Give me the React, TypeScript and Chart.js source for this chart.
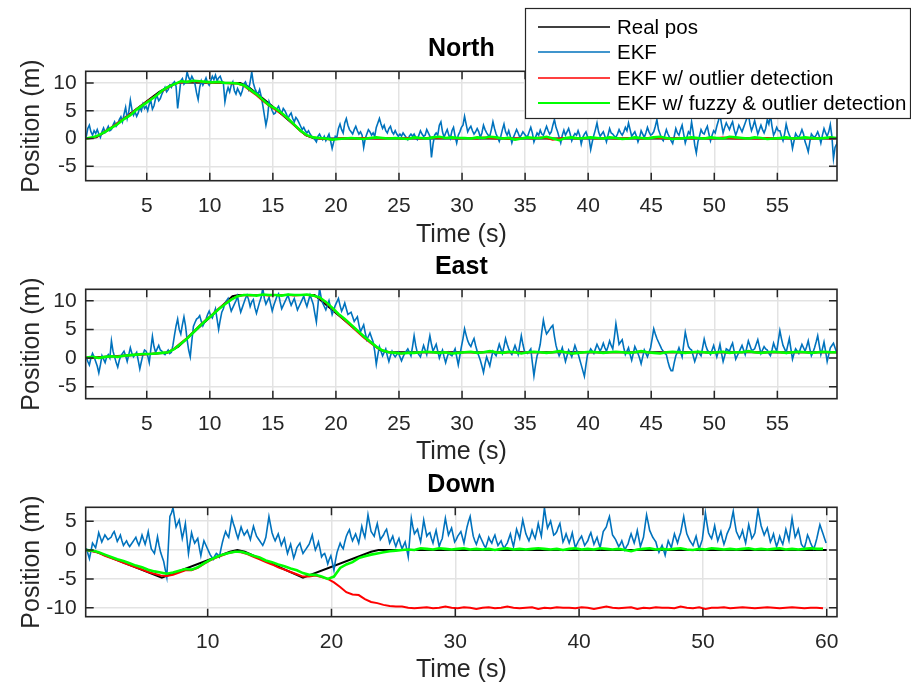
import React, { useEffect, useRef } from "react";
import { Chart, registerables } from "chart.js";
Chart.register(...registerables);

// ---------- DATA ----------
const seriesNames = ["Real pos", "EKF", "EKF w/ outlier detection", "EKF w/ fuzzy & outlier detection"];
const seriesColors = ["#000000", "#0072BD", "#FF0000", "#00FF00"];

const ekfStart = 0.2;
const ekfStep = 0.125;
const filtStart = 0.2;
const filtStep = 0.5;

const northXTicks = [5, 10, 15, 20, 25, 30, 35, 40, 45, 50, 55];
const eastXTicks = [5, 10, 15, 20, 25, 30, 35, 40, 45, 50, 55];
const downXTicks = [10, 20, 30, 40, 50, 60];
const northYTicks = [-5, 0, 5, 10];
const eastYTicks = [-5, 0, 5, 10];
const downYTicks = [-10, -5, 0, 5];

// North
const northRealT = [0.16, 1.0, 2.0, 3.0, 4.0, 5.0, 6.0, 7.0, 7.6, 12.4, 13.0, 14.0, 15.0, 16.0, 17.0, 17.6, 18.3, 59.73];
const northRealV = [0, 0.2, 1.6, 3.3, 5.0, 6.7, 8.4, 9.7, 10.1, 10.0, 9.4, 7.6, 5.7, 3.8, 1.8, 0.6, 0, 0];
const northEkf = [
  0.3, 1.8, 2.4, 1.2, 0.6, 1.4, 0.9, 1.6,  0.8, 0.2, 1.2, 1.9, 1.1, 1.6, 2.2, 1.4,
  1.6, 2.4, 3.0, 2.2, 2.6, 3.4, 3.9, 3.0,  4.4, 5.6, 3.6, 4.8, 6.9, 5.2, 4.2, 4.8,
  4.0, 4.6, 5.6, 5.0, 6.2, 5.4, 5.8, 5.0,  6.2, 6.8, 5.3, 5.9, 7.2, 7.6, 6.8, 7.2,
  8.0, 8.6, 9.2, 8.4, 8.8, 9.6, 9.2, 9.9,  10.2, 9.4, 5.4, 7.8, 10.4, 10.8, 9.8, 10.2,
  12.0, 11.0, 10.4, 11.2, 10.6, 9.8, 8.2, 7.0,  9.2, 10.4, 9.6, 10.2, 10.9, 10.0, 9.6, 10.4,
  11.2, 10.6, 11.4, 10.4, 10.9, 11.2, 10.4, 10.0,  6.6, 8.2, 9.2, 8.4, 9.6, 10.2, 8.6, 8.0,
  9.0, 8.4, 7.8, 8.6, 9.8, 10.2, 9.4, 8.8,  10.2, 12.0, 10.0, 9.0, 8.4, 8.0, 8.8, 7.6,
  6.0, 4.2, 2.4, 3.8, 6.6, 5.8, 5.0, 4.4,  4.6, 5.4, 5.8, 5.0, 4.6, 5.4, 5.0, 4.4,
  3.6, 4.2, 4.6, 3.6, 3.0, 3.8, 3.4, 2.8,  2.2, 1.6, 2.0, 1.4, 1.0, 1.4, 0.8, 0.4,
  0.2, -0.2, -0.6, 0.4, 0.8, 0.2, -0.2, 0.4,  -0.4, 0.2, 0.8, -0.4, -1.8, -0.6, 0.4, 0.2,
  1.8, 2.6, 1.6, 1.0, 2.8, 3.6, 2.4, 1.6,  1.2, 0.8, 1.6, 2.2, 1.4, 0.8, 1.2, 0.6,
  -1.6, 0.0, 0.8, 1.6, 1.2, 0.6, 1.0, 0.4,  2.0, 2.8, 3.6, 2.6, 1.8, 2.4, 1.4, 1.0,
  1.8, 2.2, 1.2, 0.8, 1.4, 0.8, 0.4, 0.8,  0.4, 1.0, 0.6, 0.2, -0.2, 0.4, 0.8, 0.4,
  0.8, 0.2, -0.2, 0.6, 1.4, 0.8, 0.4, 0.6,  1.6, 1.0, 0.4, -3.4, -1.0, 0.6, 1.0, 0.6,
  2.4, 3.0, 1.2, 0.2, 1.0, 1.6, 0.6, 0.0,  1.4, 2.0, 0.4, -0.8, 0.6, 1.2, 2.0, 2.4,
  4.0, 2.6, 1.2, 1.8, 2.2, 1.4, 0.8, 1.2,  1.8, 1.2, 0.2, 1.0, 2.4, 1.6, 1.0, 0.6,
  0.4, 1.6, 3.0, 1.8, 0.8, 0.2, -0.5, 0.4,  1.6, 2.6, 1.2, 0.6, 1.4, 0.4, -0.8, 0.2,
  0.9, 1.6, 1.0, 0.2, 0.6, 1.2, 0.8, 0.4,  0.4, 1.2, 2.0, 1.0, -0.6, 0.2, 1.0, 0.6,
  1.5, 0.8, 0.6, 1.4, 2.2, 1.4, 0.8, 1.2,  2.4, 3.4, 2.0, 1.2, 0.2, -0.8, 0.6, 1.5,
  0.6, 1.2, 1.8, 0.8, -0.4, 0.4, 0.9, 0.6,  1.4, 0.6, -1.0, 0.2, 0.8, 1.2, 0.3, 0.0,
  -2.0, -0.6, 0.6, 1.6, 2.8, 1.2, 0.4, 0.8,  1.2, 0.4, -0.6, 0.6, 1.8, 1.0, 0.8, 0.4,
  0.2, 0.8, 1.6, 1.0, 0.6, 1.2, 2.0, 1.4,  2.8, 1.6, 0.4, 0.8, 1.2, 0.4, -0.6, 0.2,
  1.4, 0.8, 0.2, 1.0, 2.0, 1.2, 0.6, 0.8,  1.2, 2.2, 3.4, 1.6, 0.8, 0.0, -0.4, 0.6,
  1.6, 0.8, 0.2, -0.4, -0.9, 0.4, 1.8, 1.0,  0.6, 1.6, 2.4, 0.8, -0.8, 0.2, 1.2, 0.8,
  3.0, 1.2, -1.2, -2.6, -0.6, 0.4, 1.6, 1.0,  0.8, 1.6, 2.2, 0.8, -0.4, 0.6, 1.4, 1.0,
  2.2, 3.2, 4.3, 2.6, 1.0, 2.0, 2.8, 2.2,  1.6, 2.4, 3.0, 1.6, 0.6, 1.4, 2.4, 1.8,
  1.2, 2.0, 2.8, 3.6, 4.6, 2.6, 1.4, 2.2,  3.2, 2.0, 0.8, 1.6, 2.4, 1.6, 1.0, 1.8,
  3.4, 2.6, 4.3, 2.2, 0.6, 1.2, 2.0, 1.4,  1.4, 0.4, -0.4, 0.8, 2.6, 1.4, 0.6, 0.0,
  -1.8, -0.4, 0.9, 0.4, 0.2, 0.8, 1.6, 0.8,  -0.6, -1.4, -2.4, -0.6, 0.8, 0.4, 0.2, 0.6,
  1.2, 0.4, -0.8, 0.6, 1.8, 1.0, 0.4, 1.2,  2.5, 0.4, -3.6, -1.6, -1.0, -0.2, 0.2, 0.4,
];
const northOutlier = [
  0.0, 0.1, 0.5, 1.3, 2.0, 2.8, 3.6, 4.4, 5.3, 6.1,
  6.9, 7.7, 8.5, 9.2, 9.8, 10.1, 10.2, 10.3, 10.2, 10.1,
  10.0, 10.1, 10.0, 9.9, 9.9, 9.5, 8.6, 7.8, 6.8, 5.9,
  5.2, 4.4, 3.5, 2.4, 1.3, 0.5, 0.2, 0.0, -0.1, -0.2,
  0.0, 0.1, 0.0, 0.0, 0.1, 0.1, 0.0, 0.0, 0.1, 0.1,
  0.0, 0.1, 0.1, 0.0, 0.1, 0.2, 0.1, 0.1, 0.1, 0.0,
  0.1, 0.1, 0.0, 0.2, 0.1, 0.0, 0.1, -0.1, 0.0, 0.1,
  0.1, 0.0, 0.2, 0.1, -0.2, 0.0, 0.1, 0.1, 0.0, 0.1,
  0.1, 0.0, 0.1, 0.1, 0.0, 0.0, 0.1, 0.1, 0.0, 0.1,
  0.2, 0.1, 0.0, 0.0, 0.1, 0.1, 0.0, 0.1, 0.1, 0.0,
  0.1, 0.2, 0.1, 0.0, 0.0, 0.1, 0.0, 0.0, 0.1, 0.0,
  0.1, 0.1, 0.0, 0.1, 0.1, 0.0, 0.1, 0.1, 0.0, 0.1,
];
const northFuzzy = [
  0.0, 0.2, 0.6, 1.2, 1.9, 2.6, 3.5, 4.2, 5.2, 6.0,
  6.8, 7.6, 8.6, 9.3, 9.8, 10.3, 10.2, 10.4, 10.3, 10.2,
  10.1, 10.2, 10.0, 10.0, 9.9, 9.6, 8.8, 8.0, 7.0, 6.0,
  5.4, 4.6, 3.6, 2.5, 1.4, 0.6, 0.2, 0.1, 0.0, -0.2,
  -0.1, 0.0, 0.1, 0.0, -0.1, 0.1, 0.2, 0.1, 0.0, 0.1,
  0.0, -0.1, 0.2, 0.1, 0.0, 0.2, 0.3, 0.1, 0.2, 0.1,
  0.1, 0.0, 0.2, 0.1, 0.3, 0.2, 0.0, 0.1, -0.2, 0.0,
  0.2, 0.1, 0.1, 0.3, 0.0, -0.3, 0.1, 0.2, 0.0, 0.1,
  0.2, 0.1, 0.0, 0.2, 0.1, -0.1, 0.0, 0.2, 0.1, 0.0,
  0.2, 0.3, 0.1, -0.1, 0.0, 0.1, 0.2, 0.1, 0.0, 0.2,
  0.1, 0.0, 0.3, 0.2, 0.1, 0.0, 0.2, 0.1, -0.1, 0.0,
  0.1, 0.2, 0.0, 0.1, 0.2, 0.1, 0.0, 0.1, 0.2, 0.1,
];

// East
const eastRealT = [0.16, 3.0, 6.6, 7.5, 11.8, 12.3, 18.3, 23.5, 24.2, 59.73];
const eastRealV = [0.0, 0.4, 0.9, 2.0, 10.8, 11.0, 11.0, 1.4, 1.0, 1.0];
const eastEkf = [
  0.2, -0.6, -1.2, 0.0, 0.8, 0.2, -0.6, -1.4,  -2.6, -1.2, 0.4, -0.2, -0.8, 0.2, 0.6, 0.0,
  3.0, 1.2, 0.2, -0.8, -1.6, -0.4, 0.4, 0.8,  1.2, 0.4, -0.6, 0.6, 1.8, 0.8, 0.2, 0.6,
  1.0, -0.4, -1.9, -0.6, 0.6, 1.4, 1.2, 0.4,  -0.8, 1.6, 3.8, 2.0, 1.0, 1.6, 2.2, 1.4,
  1.2, 0.8, 0.6, 1.0, 1.4, 0.8, 1.0, 2.2,  4.0, 5.6, 6.8, 5.0, 4.2, 5.8, 7.2, 5.6,
  3.2, 1.4, 0.2, 3.0, 5.5, 6.2, 6.8, 7.0,  7.4, 6.4, 5.6, 6.2, 6.8, 7.6, 8.2, 7.4,
  7.0, 7.8, 8.6, 6.8, 5.0, 6.6, 8.0, 8.6,  9.6, 10.0, 10.4, 9.2, 8.2, 8.8, 9.4, 10.0,
  10.8, 9.2, 8.0, 8.8, 9.6, 10.4, 11.0, 10.2,  9.0, 9.8, 10.2, 8.8, 7.8, 8.8, 9.8, 10.6,
  12.2, 10.4, 9.4, 10.0, 10.6, 9.4, 8.2, 9.2,  10.0, 10.8, 11.2, 9.8, 8.6, 9.2, 9.8, 10.4,
  11.0, 10.0, 9.2, 9.8, 10.4, 9.4, 8.4, 9.0,  9.6, 10.2, 10.8, 9.8, 9.0, 10.0, 11.0, 10.2,
  9.4, 7.8, 6.3, 9.2, 12.2, 10.6, 9.6, 9.0,  8.4, 9.2, 10.0, 8.8, 7.6, 8.4, 9.2, 9.8,
  10.4, 9.2, 8.2, 8.8, 9.6, 8.6, 7.6, 7.8,  8.0, 7.2, 6.4, 6.8, 7.2, 5.8, 4.6, 5.2,
  5.8, 4.4, 3.2, 3.8, 4.4, 3.6, 2.8, 1.2,  -1.1, 0.6, 2.0, 1.2, 0.4, 1.0, 1.6, 0.4,
  -0.6, 0.4, 1.2, 0.6, 0.2, 0.6, 1.0, 0.2,  -0.5, 0.2, 0.8, 1.2, 1.6, 1.0, 0.4, 2.0,
  3.9, 2.2, 1.0, 0.6, 0.2, 1.2, 2.2, 1.4,  0.6, 2.4, 3.9, 2.4, 1.2, 1.8, 2.4, 1.2,
  0.0, 0.8, 1.4, 0.2, -0.8, 0.2, 1.0, 0.6,  0.4, 1.0, 1.6, 0.2, -1.2, 0.4, 2.0, 3.4,
  5.1, 4.0, 3.0, 2.4, 2.0, 2.8, 3.4, 2.2,  1.2, 0.4, -0.4, -1.4, -2.5, -1.0, 0.2, -0.6,
  -1.4, 0.0, 1.2, 0.8, 0.4, 1.4, 2.4, 1.6,  0.8, 2.0, 3.4, 2.4, 1.6, 1.0, 0.6, 1.4,
  2.2, 1.4, 0.6, 2.2, 3.9, 2.4, 1.2, 1.0,  0.8, 1.2, 1.6, -0.8, -3.1, -1.2, 0.4, 1.2,
  2.4, 4.6, 6.6, 5.2, 4.2, 4.6, 5.0, 5.4,  5.7, 3.8, 2.2, 1.2, 0.4, 1.0, 1.8, 0.6,
  -0.6, 0.4, 1.4, 0.8, 0.2, 1.2, 2.2, 1.4,  0.8, -0.2, -1.2, -2.2, -3.2, -1.2, 0.6, 1.0,
  1.6, 1.2, 0.8, 1.6, 2.4, 1.8, 1.2, 1.8,  2.6, 1.8, 1.2, 2.0, 3.0, 2.2, 1.6, 3.6,
  6.0, 4.2, 2.4, 2.8, 3.2, 1.8, 0.6, 1.2,  1.8, 0.6, -0.4, 0.8, 2.0, 1.4, 0.8, 0.0,
  -1.0, 0.2, 1.4, 0.8, 0.2, 1.0, 1.8, 3.4,  5.1, 4.2, 3.4, 2.8, 2.2, 1.6, 1.2, 0.8,
  0.6, -0.6, -1.6, -2.2, -2.2, -0.8, 0.4, 1.0,  1.8, 1.0, 0.2, 2.4, 4.5, 3.2, 2.0, 1.6,
  1.4, 0.4, -0.6, 0.2, 1.2, 0.8, 0.4, 1.8,  3.3, 2.2, 1.4, 1.0, 0.6, 1.4, 2.2, 1.2,
  0.2, 1.2, 2.4, 0.8, -0.6, 0.4, 1.6, 1.4,  1.2, 2.0, 2.6, 1.2, -0.2, 0.4, 1.0, 1.6,
  2.2, 1.4, 0.6, 1.8, 3.0, 2.2, 1.4, 1.4,  1.6, 2.4, 3.2, 2.0, 0.8, 1.4, 2.0, 1.6,
  1.4, 0.8, 0.4, 1.4, 2.6, 1.8, 1.2, 3.0,  4.8, 3.4, 2.2, 1.6, 1.0, 2.2, 3.4, 1.6,
  -0.2, 0.8, 1.6, 1.2, 0.8, 1.6, 2.4, 1.8,  1.2, 2.0, 3.0, 1.6, 0.4, 1.0, 1.8, 2.8,
  3.9, 2.2, 0.6, 1.6, 2.8, 1.2, -0.6, 0.6,  1.8, 2.2, 2.6, 1.8, 1.0, 1.2, 1.4, 1.2,
];
const eastOutlier = [
  0.1, 0.1, 0.1, 0.2, 0.3, 0.3, 0.4, 0.5, 0.6, 0.6,
  0.7, 0.8, 0.9, 1.0, 1.7, 2.6, 3.5, 4.6, 5.7, 6.7,
  7.6, 8.6, 9.5, 10.3, 10.8, 11.0, 10.9, 11.0, 11.0, 10.9,
  11.0, 11.0, 11.0, 10.9, 11.0, 11.0, 10.9, 10.5, 9.7, 8.7,
  7.6, 6.6, 5.6, 4.6, 3.6, 2.7, 1.9, 1.3, 1.0, 0.9,
  0.8, 0.9, 0.9, 1.0, 1.0, 1.0, 0.9, 1.0, 0.9, 0.9,
  1.0, 1.0, 0.9, 1.0, 1.1, 1.0, 0.9, 1.0, 1.0, 0.9,
  1.0, 1.0, 1.0, 0.9, 1.0, 1.1, 1.0, 0.8, 0.9, 1.0,
  1.0, 1.0, 0.9, 1.0, 1.0, 1.0, 0.9, 1.0, 1.1, 1.0,
  0.9, 0.9, 1.0, 1.0, 1.0, 0.9, 1.0, 1.0, 1.0, 0.9,
  1.0, 1.0, 0.9, 1.0, 1.0, 1.1, 1.0, 0.9, 1.0, 1.0,
  1.0, 0.9, 1.0, 1.0, 1.0, 0.9, 1.0, 1.0, 1.0, 1.0,
];
const eastFuzzy = [
  0.1, 0.2, 0.0, 0.2, 0.3, 0.2, 0.4, 0.5, 0.6, 0.7,
  0.7, 0.8, 0.9, 1.0, 1.6, 2.5, 3.4, 4.5, 5.6, 6.6,
  7.5, 8.5, 9.4, 10.2, 10.8, 11.0, 11.0, 10.9, 11.1, 11.0,
  11.0, 10.9, 11.1, 11.0, 11.0, 11.1, 10.9, 10.6, 9.8, 8.8,
  7.7, 6.8, 5.8, 4.8, 3.8, 2.9, 2.0, 1.3, 1.0, 0.9,
  0.8, 0.9, 0.9, 1.0, 1.1, 1.0, 0.9, 1.0, 0.8, 0.9,
  1.0, 1.1, 0.9, 1.0, 1.2, 1.0, 0.9, 1.1, 1.0, 0.8,
  1.0, 1.1, 1.0, 0.9, 1.0, 1.2, 1.0, 0.8, 0.9, 1.0,
  1.1, 1.0, 0.9, 1.0, 1.1, 1.0, 0.9, 1.0, 1.2, 1.0,
  0.9, 0.8, 1.0, 1.1, 1.0, 0.9, 1.0, 1.1, 1.0, 0.9,
  1.0, 1.1, 0.9, 1.0, 1.0, 1.2, 1.0, 0.9, 1.0, 1.1,
  1.0, 0.9, 1.0, 1.1, 1.0, 0.9, 1.0, 1.1, 1.0, 1.0,
];

// Down
const downRealT = [0.15, 1.0, 6.3, 11.8, 12.4, 13.0, 17.7, 23.2, 23.8, 60.0];
const downRealV = [0.0, -0.3, -4.8, -0.3, 0.0, -0.3, -4.8, -0.3, 0.0, 0.0];
const downEkf = [
  0.3, -0.6, -1.5, -0.2, 1.2, 0.8, 0.4, 1.6,  3.0, 2.2, 1.4, 2.0, 2.6, 2.2, 1.8, 2.0,
  2.2, 2.8, 3.2, 2.4, 1.5, 2.0, 2.6, 1.6,  0.8, 1.2, 1.6, 1.0, 0.6, 1.0, 1.4, 1.8,
  2.2, 1.4, 0.8, 1.6, 2.6, 1.8, 1.0, 2.0,  3.2, 1.6, 0.2, -0.2, -0.6, 0.8, 2.3, 0.8,
  -0.4, -1.2, -2.0, -3.4, -4.7, 0.6, 5.8, 6.4,  7.3, 5.6, 4.0, 4.6, 5.2, 3.6, 2.0, 3.2,
  4.6, 2.0, -0.6, 1.2, 3.0, 2.0, 1.2, 1.6,  2.0, 0.4, -1.0, 0.4, 1.6, 1.0, 0.4, -0.2,
  -0.8, -1.2, -1.6, -1.0, -0.6, -0.8, -1.2, 0.2,  1.4, 2.4, 3.2, 2.6, 2.2, 3.8, 5.6, 4.6,
  3.8, 2.8, 2.0, 3.0, 4.0, 3.2, 2.6, 3.0,  3.4, 2.6, 1.8, 3.0, 4.1, 3.2, 2.4, 2.0,
  1.6, 1.2, 0.8, 1.4, 2.2, 4.0, 5.8, 4.4,  3.0, 2.2, 1.6, 2.2, 2.8, 1.8, 0.8, 1.4,
  2.0, 0.6, -0.6, 0.2, 1.0, -0.2, -1.4, -0.6,  0.4, 0.8, 1.2, 0.2, -0.6, -0.2, 0.2, 0.6,
  1.0, 1.8, 2.6, 1.2, 0.0, 0.6, 1.4, 0.2,  -1.2, -0.8, -0.6, -1.4, -2.4, -1.6, -1.0, -2.2,
  -3.5, -1.8, -0.4, 0.4, 1.2, 0.6, 0.2, 1.4,  2.4, 3.0, 3.5, 2.4, 1.6, 2.2, 2.8, 2.0,
  1.2, 2.6, 4.1, 3.0, 2.2, 4.0, 6.1, 4.6,  3.2, 2.8, 2.4, 3.6, 4.6, 3.2, 1.8, 2.2,
  2.6, 3.2, 3.6, 2.4, 1.2, 1.8, 2.4, 1.4,  0.6, 1.4, 2.0, 1.0, 0.2, 0.8, 1.4, 0.2,
  -1.2, 2.0, 5.5, 4.0, 2.8, 3.2, 3.6, 2.4,  1.4, 3.2, 5.2, 3.8, 2.4, 2.8, 3.0, 2.0,
  1.2, 2.4, 3.4, 2.0, 0.6, 1.4, 2.0, 3.8,  5.5, 4.0, 2.6, 3.2, 3.8, 2.6, 1.4, 1.8,
  2.4, 2.8, 3.2, 2.2, 1.2, 2.6, 4.0, 5.0,  5.8, 4.0, 2.4, 1.6, 1.0, 1.8, 2.6, 2.0,
  1.4, 0.8, 0.4, 1.2, 2.2, 1.6, 1.2, 2.0,  2.6, 1.6, 0.8, 1.2, 1.6, 0.8, 0.3, 0.8,
  1.2, 2.0, 2.8, 1.6, 0.6, 2.0, 3.6, 2.8,  2.0, 3.6, 5.2, 4.0, 2.8, 2.2, 1.6, 2.4,
  3.4, 2.6, 2.0, 3.2, 4.6, 3.4, 2.4, 4.8,  7.3, 5.4, 3.8, 4.4, 5.0, 3.8, 2.6, 2.8,
  3.2, 4.0, 4.6, 3.0, 1.4, 2.0, 2.8, 2.0,  1.2, 2.0, 3.0, 1.6, 0.4, 1.0, 1.6, 2.0,
  2.4, 1.6, 0.8, 1.2, 1.6, 2.4, 3.0, 2.0,  1.0, 1.6, 2.2, 1.2, 0.4, 1.8, 3.2, 3.6,
  4.0, 5.0, 5.8, 4.2, 2.6, 2.2, 1.8, 1.2,  0.6, 1.0, 1.6, 0.8, 0.0, 0.6, 1.0, 2.0,
  2.8, 2.0, 1.2, 2.2, 3.4, 2.0, 0.6, 1.4,  2.2, 4.2, 6.1, 4.8, 3.4, 2.8, 2.2, 1.8,
  1.4, 0.4, -0.4, 0.2, 0.8, 0.0, -0.9, 0.4,  1.6, 1.0, 0.4, 1.6, 2.8, 2.0, 1.2, 2.2,
  3.0, 4.4, 5.8, 4.2, 2.8, 2.2, 1.6, 1.2,  0.8, 1.6, 2.4, 1.2, 0.2, 1.0, 1.8, 4.0,
  6.4, 4.6, 3.0, 2.4, 2.0, 3.0, 4.2, 2.8,  1.6, 2.4, 3.2, 2.0, 1.0, 1.8, 2.8, 3.4,
  4.0, 5.4, 6.7, 4.8, 3.2, 2.6, 2.0, 2.6,  3.4, 2.2, 1.2, 2.8, 4.4, 3.2, 2.0, 2.4,
  3.0, 5.0, 7.0, 5.6, 4.2, 3.4, 2.6, 3.2,  3.8, 2.6, 1.4, 2.0, 2.8, 1.6, 0.6, 1.4,
  2.4, 1.6, 1.0, 2.2, 3.6, 2.6, 1.6, 3.6,  5.5, 3.8, 2.2, 2.8, 3.6, 2.4, 1.0, 0.6,
  0.4, 1.4, 2.6, 2.0, 1.2, 0.6, 0.2, 1.0,  2.0, 3.2, 4.4, 3.6, 2.8, 2.0, 1.2,
];
const downOutlier = [
  0.0, -0.2, -0.5, -1.0, -1.4, -1.8, -2.2, -2.6, -3.0, -3.4,
  -3.8, -4.1, -4.4, -4.5, -4.3, -3.9, -3.5, -3.5, -3.1, -2.4,
  -1.8, -1.3, -0.9, -0.5, -0.3, -0.4, -0.7, -1.2, -1.6, -2.1,
  -2.5, -3.0, -3.4, -3.8, -4.2, -4.6, -4.6, -4.4, -4.7, -5.0,
  -5.6, -6.4, -7.3, -7.7, -7.8, -8.5, -9.0, -9.2, -9.5, -9.7,
  -9.8, -9.8, -10.0, -10.1, -10.0, -9.9, -10.1, -10.0, -9.8, -10.0,
  -10.1, -9.9, -10.0, -10.2, -10.0, -9.9, -10.1, -10.0, -9.8, -10.0,
  -10.1, -10.0, -9.9, -10.2, -10.0, -10.1, -9.9, -10.0, -10.0, -10.1,
  -9.9, -10.0, -10.2, -10.0, -9.8, -10.0, -10.1, -10.0, -9.9, -10.2,
  -10.0, -10.1, -9.9, -10.0, -10.0, -10.1, -9.8, -10.0, -10.1, -9.9,
  -10.2, -10.0, -10.0, -9.9, -10.1, -10.0, -9.9, -10.0, -10.1, -10.0,
  -9.9, -10.0, -10.1, -10.0, -9.9, -10.0, -10.1, -10.0, -10.0, -10.1,
];
const downFuzzy = [
  0.0, -0.1, -0.4, -0.8, -1.2, -1.6, -1.9, -2.3, -2.7, -3.0,
  -3.4, -3.7, -3.9, -4.1, -3.9, -3.6, -3.3, -3.4, -3.0, -2.3,
  -1.7, -1.2, -0.8, -0.5, -0.3, -0.3, -0.6, -1.0, -1.3, -1.8,
  -2.1, -2.5, -2.8, -3.2, -3.5, -4.0, -4.3, -4.3, -4.6, -5.0,
  -4.6, -3.1, -2.5, -2.1, -1.4, -1.1, -0.8, -0.6, -0.4, -0.2,
  -0.1, 0.0, 0.1, 0.0, 0.3, 0.2, 0.1, 0.3, 0.2, 0.1,
  0.2, 0.3, 0.1, 0.2, 0.1, 0.2, 0.0, 0.2, 0.3, 0.1,
  0.2, 0.1, 0.2, 0.3, 0.2, 0.1, 0.2, 0.0, 0.2, 0.3,
  0.1, 0.2, 0.1, 0.3, 0.2, 0.1, 0.2, 0.0, -0.2, 0.1,
  0.2, 0.3, 0.1, 0.2, 0.1, 0.2, 0.3, 0.1, 0.0, 0.2,
  0.1, 0.3, 0.2, 0.1, 0.2, 0.1, 0.2, 0.3, 0.1, 0.2,
  0.1, 0.2, 0.3, 0.1, 0.2, 0.1, 0.2, 0.3, 0.2, 0.2,
];

// ---------- helpers ----------
const FONT = "'Liberation Sans', Arial, Helvetica, sans-serif";
const AXIS_COLOR = "#262626";
const GRID_COLOR = "#e3e3e3";
const CANVAS_W = 911;

const sampled = (start: number, step: number, vals: number[]) =>
  vals.map((v, i) => ({ x: Math.round((start + i * step) * 1000) / 1000, y: v }));
const keyed = (ts: number[], vs: number[]) => ts.map((t, i) => ({ x: t, y: vs[i] }));

const boxPlugin = {
  id: "mbox",
  afterDatasetsDraw(chart: any, _args: any, opts: any) {
    const { ctx, chartArea: a, scales } = chart;
    const xs = scales.x, ys = scales.y;
    const tl = 8;
    ctx.save();
    ctx.strokeStyle = AXIS_COLOR;
    ctx.lineWidth = 1.5;
    ctx.beginPath();
    xs.ticks.forEach((t: any) => {
      const px = xs.getPixelForValue(t.value);
      ctx.moveTo(px, a.bottom); ctx.lineTo(px, a.bottom - tl);
      ctx.moveTo(px, a.top); ctx.lineTo(px, a.top + tl);
    });
    ys.ticks.forEach((t: any) => {
      const py = ys.getPixelForValue(t.value);
      ctx.moveTo(a.left, py); ctx.lineTo(a.left + tl, py);
      ctx.moveTo(a.right, py); ctx.lineTo(a.right - tl, py);
    });
    ctx.stroke();
    ctx.lineWidth = 1.6;
    ctx.strokeRect(a.left, a.top, a.right - a.left, a.bottom - a.top);
    // panel title
    ctx.fillStyle = "#000000";
    ctx.font = `bold 25px ${FONT}`;
    ctx.textAlign = "center";
    ctx.textBaseline = "middle";
    ctx.fillText(opts.text, (a.left + a.right) / 2, opts.y);
    ctx.restore();
  },
};

const legendPlugin = {
  id: "mlegend",
  afterDraw(chart: any) {
    const { ctx } = chart;
    ctx.save();
    ctx.fillStyle = "#ffffff";
    ctx.fillRect(525, 8, 386, 110);
    ctx.strokeStyle = AXIS_COLOR;
    ctx.lineWidth = 1.2;
    ctx.strokeRect(525.5, 8.5, 385, 110);
    const rows = [27, 52, 78, 103];
    ctx.font = `20.5px ${FONT}`;
    ctx.textBaseline = "middle";
    ctx.textAlign = "left";
    seriesNames.forEach((name, i) => {
      ctx.strokeStyle = seriesColors[i];
      ctx.lineWidth = i === 3 ? 2 : 1.6;
      ctx.beginPath();
      ctx.moveTo(538, rows[i]);
      ctx.lineTo(610, rows[i]);
      ctx.stroke();
      ctx.fillStyle = "#000000";
      ctx.fillText(name, 617, rows[i] + 1);
    });
    ctx.restore();
  },
};

type PanelProps = {
  top: number;
  height: number;
  title: string;
  titleY: number;
  areaTop: number;
  axisH: number;
  xMin: number;
  xMax: number;
  yMin: number;
  yMax: number;
  xTicks: number[];
  yTicks: number[];
  realT: number[];
  realV: number[];
  ekf: number[];
  outlier: number[];
  fuzzy: number[];
  legend?: boolean;
};

function Panel(p: PanelProps) {
  const ref = useRef<HTMLCanvasElement | null>(null);
  useEffect(() => {
    if (!ref.current) return;
    const ds = (data: any[], color: string, width: number, order: number) => ({
      data,
      borderColor: color,
      backgroundColor: color,
      borderWidth: width,
      pointRadius: 0,
      tension: 0,
      fill: false,
      order,
      clip: 0,
    });
    const chart = new Chart(ref.current, {
      type: "line",
      data: {
        datasets: [
          ds(keyed(p.realT, p.realV), seriesColors[0], 2, 3),
          ds(sampled(ekfStart, ekfStep, p.ekf), seriesColors[1], 1.6, 2),
          ds(sampled(filtStart, filtStep, p.outlier), seriesColors[2], 2, 1),
          ds(sampled(filtStart, filtStep, p.fuzzy), seriesColors[3], 2.6, 0),
        ] as any,
      },
      options: {
        responsive: false,
        animation: false,
        devicePixelRatio: 1,
        events: [],
        layout: { padding: { left: 0, right: CANVAS_W - 837, top: p.areaTop, bottom: 0 } },
        plugins: {
          legend: { display: false },
          tooltip: { enabled: false },
          title: { display: false },
          mbox: { text: p.title, y: p.titleY },
        },
        scales: {
          x: {
            type: "linear",
            min: p.xMin,
            max: p.xMax,
            afterBuildTicks: (s: any) => { s.ticks = p.xTicks.map((v) => ({ value: v })); },
            afterFit: (s: any) => { s.height = p.axisH; },
            grid: { color: GRID_COLOR, lineWidth: 1.5, drawTicks: false },
            border: { display: false },
            ticks: {
              padding: 13,
              color: AXIS_COLOR,
              font: { family: FONT, size: 21 },
              maxRotation: 0,
              autoSkip: false,
              callback: (v: any) => String(v),
            },
            title: {
              display: true,
              text: "Time (s)",
              color: AXIS_COLOR,
              font: { family: FONT, size: 25, lineHeight: 1.2 },
              padding: { top: 0, bottom: 0 },
            },
          },
          y: {
            type: "linear",
            min: p.yMin,
            max: p.yMax,
            afterBuildTicks: (s: any) => { s.ticks = p.yTicks.map((v) => ({ value: v })); },
            afterFit: (s: any) => { s.width = 85.7; },
            grid: { color: GRID_COLOR, lineWidth: 1.5, drawTicks: false },
            border: { display: false },
            ticks: {
              padding: 9,
              color: AXIS_COLOR,
              font: { family: FONT, size: 21 },
              autoSkip: false,
              callback: (v: any) => String(v),
            },
            title: {
              display: true,
              text: "Position (m)",
              color: AXIS_COLOR,
              font: { family: FONT, size: 25, lineHeight: 1.2 },
              padding: { top: 16.7, bottom: 0 },
            },
          },
        },
      } as any,
      plugins: p.legend ? [boxPlugin, legendPlugin] : [boxPlugin],
    });
    return () => chart.destroy();
  }, []);
  return (
    <canvas
      ref={ref}
      width={CANVAS_W}
      height={p.height}
      style={{ position: "absolute", left: 0, top: p.top, width: CANVAS_W, height: p.height }}
    />
  );
}

export default function App() {
  return (
    <div style={{ position: "absolute", left: 0, top: 0, width: 911, height: 687, background: "#ffffff", overflow: "hidden" }}>
      <Panel top={0} height={250} title="North" titleY={49} areaTop={71.3} axisH={69.3}
        xMin={0.16} xMax={59.73} yMin={-7.6} yMax={12.1} xTicks={northXTicks} yTicks={northYTicks}
        realT={northRealT} realV={northRealV} ekf={northEkf} outlier={northOutlier} fuzzy={northFuzzy} legend />
      <Panel top={250} height={217} title="East" titleY={17.5} areaTop={39.3} axisH={68.3}
        xMin={0.16} xMax={59.73} yMin={-7.1} yMax={12.0} xTicks={eastXTicks} yTicks={eastYTicks}
        realT={eastRealT} realV={eastRealV} ekf={eastEkf} outlier={eastOutlier} fuzzy={eastFuzzy} />
      <Panel top={467} height={218} title="Down" titleY={18.5} areaTop={40.3} axisH={68.3}
        xMin={0.15} xMax={60.83} yMin={-11.55} yMax={7.4} xTicks={downXTicks} yTicks={downYTicks}
        realT={downRealT} realV={downRealV} ekf={downEkf} outlier={downOutlier} fuzzy={downFuzzy} />
    </div>
  );
}
